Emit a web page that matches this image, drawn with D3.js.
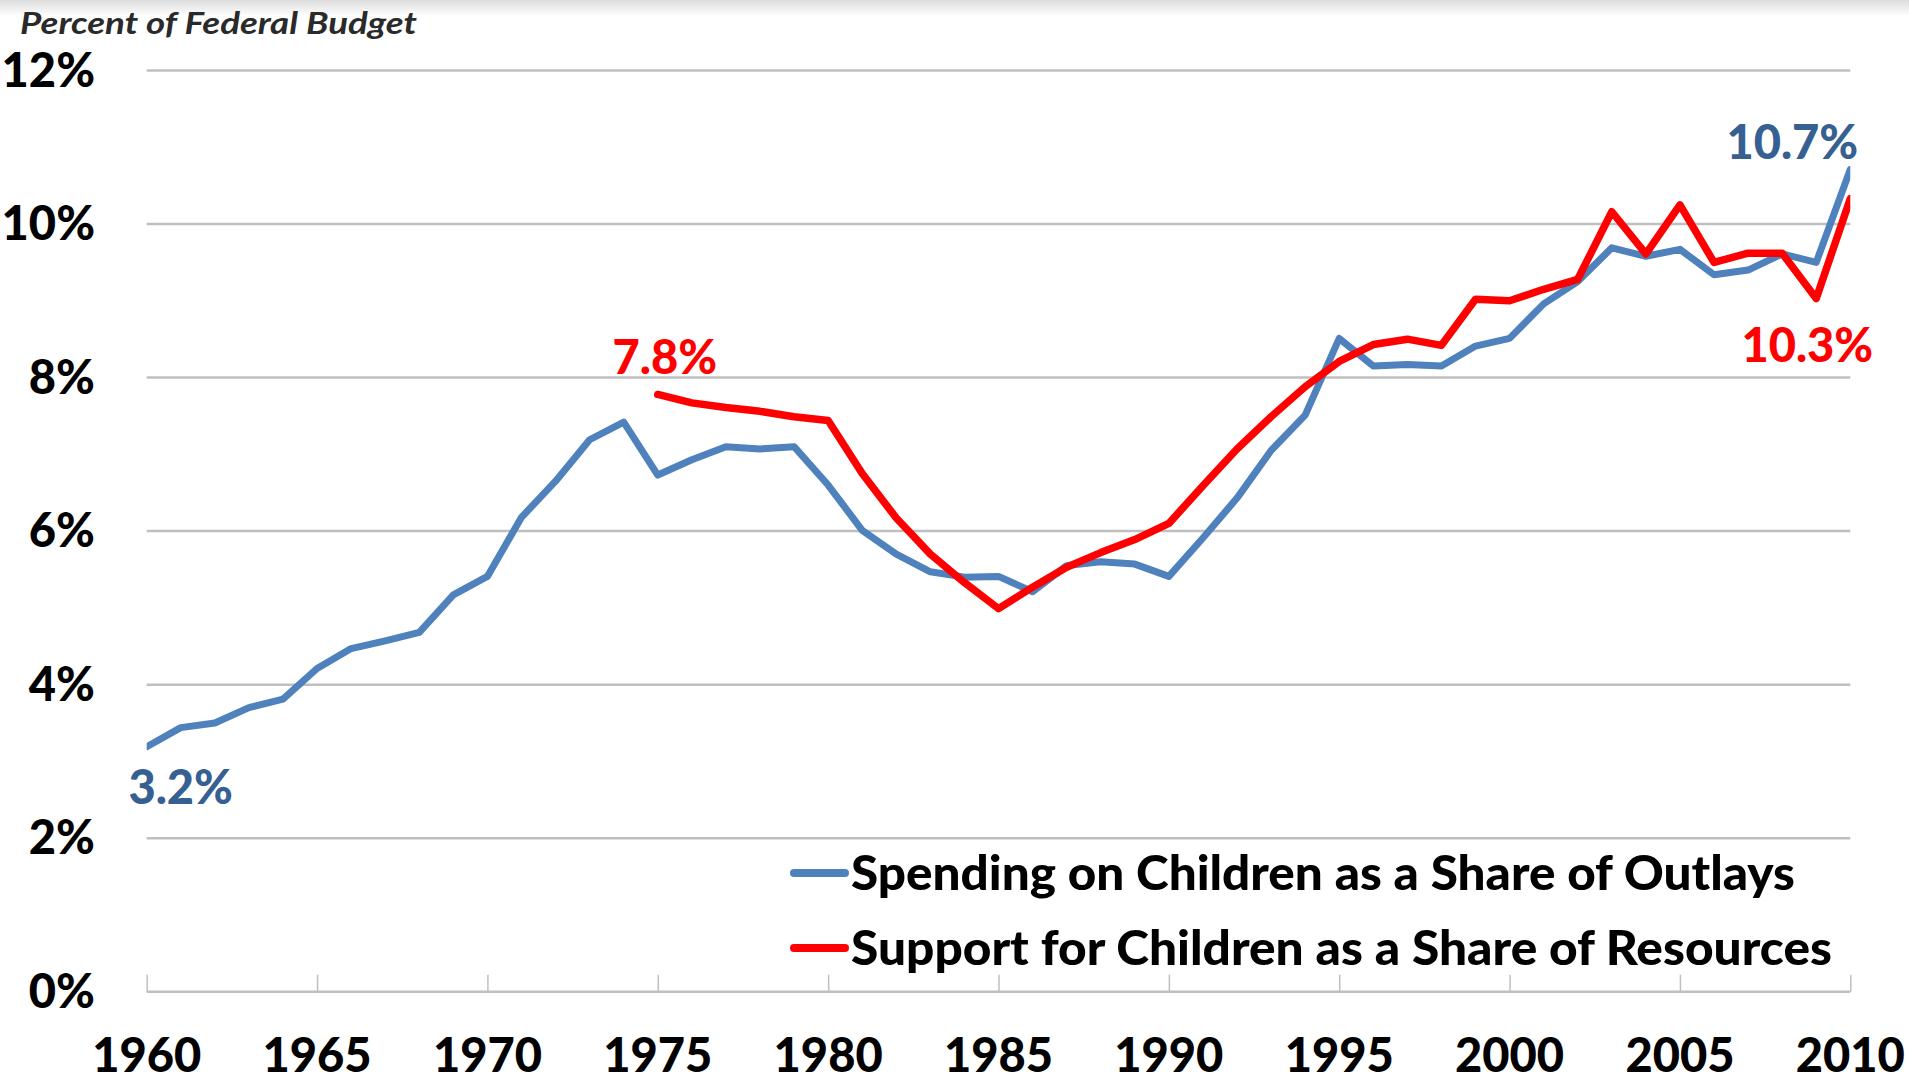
<!DOCTYPE html>
<html>
<head>
<meta charset="utf-8">
<script src="https://cdn.jsdelivr.net/npm/d3@7"></script>
<style>
  body { margin: 0; background: #fff; }
  svg { display: block; font-family: Lato, "Open Sans", sans-serif; }
</style>
</head>
<body>
<div id="chart"></div>
<script>
// years on the x axis
var years = d3.range(1960, 2011);

// spending on children as a share of outlays (%), 1960-2010
var outlays = [3.19, 3.44, 3.50, 3.70, 3.81, 4.21, 4.47, 4.57, 4.68, 5.17,
               5.41, 6.18, 6.65, 7.19, 7.42, 6.73, 6.93, 7.10, 7.07, 7.10,
               6.60, 6.01, 5.70, 5.47, 5.40, 5.41, 5.21, 5.55, 5.60, 5.57,
               5.41, 5.91, 6.43, 7.05, 7.51, 8.51, 8.15, 8.17, 8.15, 8.41,
               8.51, 8.96, 9.25, 9.69, 9.58, 9.67, 9.34, 9.40, 9.61, 9.50,
               10.71];

// support for children as a share of resources (%), 1975-2010
var resourceYears = d3.range(1975, 2011);
var resources = [7.78, 7.67, 7.61, 7.56, 7.49, 7.44, 6.75, 6.17, 5.70, 5.33,
                 4.99, 5.27, 5.53, 5.72, 5.89, 6.10, 6.59, 7.07, 7.49, 7.88,
                 8.21, 8.43, 8.50, 8.42, 9.02, 9.00, 9.15, 9.28, 10.16, 9.61,
                 10.25, 9.50, 9.62, 9.62, 9.03, 10.33];

var yTicks = [0, 2, 4, 6, 8, 10, 12];
var xTicks = [1960, 1965, 1970, 1975, 1980, 1985, 1990, 1995, 2000, 2005, 2010];

var seriesNames = ["Spending on Children as a Share of Outlays",
                   "Support for Children as a Share of Resources"];

var svgWidth = 1909;
var svgHeight = 1082;

var blue = "#4F81BD";
var blueLabel = "#376092";
var red = "#FF0000";
var grid = "#BFBFBF";
var fontSize = 47;
var weight = 900;

var svg = d3.select("#chart")
  .append("svg")
  .attr("width", svgWidth)
  .attr("height", svgHeight);

// faint gray band along the top edge
var defs = svg.append("defs");
var grad = defs.append("linearGradient")
  .attr("id", "topband")
  .attr("x1", 0).attr("y1", 0).attr("x2", 0).attr("y2", 1);
grad.append("stop").attr("offset", "0%").attr("stop-color", "#dcdcdc");
grad.append("stop").attr("offset", "100%").attr("stop-color", "#ffffff");
svg.append("rect")
  .attr("x", 0).attr("y", 0)
  .attr("width", svgWidth).attr("height", 16)
  .attr("fill", "url(#topband)");

var xScale = d3.scaleLinear()
  .domain([1960, 2010])
  .range([146.7, 1850.3]);

var yScale = d3.scaleLinear()
  .domain([0, 12])
  .range([991.7, 70.5]);

defs.append("clipPath")
  .attr("id", "plotclip")
  .append("rect")
  .attr("x", xScale(1960))
  .attr("y", 0)
  .attr("width", xScale(2010) - xScale(1960))
  .attr("height", svgHeight);

// squeeze or stretch a text to the width it has in the original
function fitWidth(sel, width) {
  sel.attr("textLength", width).attr("lengthAdjust", "spacingAndGlyphs");
}

// gridlines
svg.append("g")
  .selectAll("line")
  .data(yTicks.filter(d => d > 0))
  .enter()
  .append("line")
  .attr("x1", xScale(1960))
  .attr("x2", xScale(2010))
  .attr("y1", d => yScale(d))
  .attr("y2", d => yScale(d))
  .attr("stroke", grid)
  .attr("stroke-width", 2.5);

// x axis with ticks pointing up into the plot
var xAxis = d3.axisTop(xScale)
  .tickValues(xTicks)
  .tickSize(17)
  .tickFormat("");

var xAxisG = svg.append("g")
  .attr("transform", `translate(0, ${yScale(0)})`)
  .call(xAxis);
xAxisG.select(".domain").remove();
xAxisG.selectAll("line")
  .attr("stroke", grid)
  .attr("stroke-width", 1.5);
svg.append("line")
  .attr("x1", xScale(1960))
  .attr("x2", xScale(2010))
  .attr("y1", yScale(0))
  .attr("y2", yScale(0))
  .attr("stroke", grid)
  .attr("stroke-width", 2.5);

// x tick labels
svg.append("g")
  .selectAll("text")
  .data(xTicks)
  .enter()
  .append("text")
  .attr("x", d => xScale(d))
  .attr("y", 1072)
  .attr("text-anchor", "middle")
  .attr("font-size", fontSize)
  .attr("font-weight", weight)
  .attr("fill", "#000")
  .text(d => d);

// y tick labels
svg.append("g")
  .selectAll("text")
  .data(yTicks)
  .enter()
  .append("text")
  .attr("x", 95)
  .attr("y", d => yScale(d) + 16)
  .attr("text-anchor", "end")
  .attr("font-size", fontSize)
  .attr("font-weight", weight)
  .attr("fill", "#000")
  .text(d => d + "%");

// axis title
svg.append("text")
  .attr("x", 20)
  .attr("y", 34)
  .attr("font-size", 30)
  .attr("font-weight", "bold")
  .attr("font-style", "italic")
  .attr("fill", "#2a2a2a")
  .text("Percent of Federal Budget")
  .call(fitWidth, 397);

// lines
var line = d3.line()
  .x(d => xScale(d[0]))
  .y(d => yScale(d[1]));

var lines = svg.append("g").attr("clip-path", "url(#plotclip)");

lines.append("path")
  .datum(years.map((y, i) => [y, outlays[i]]))
  .attr("d", line)
  .attr("fill", "none")
  .attr("stroke", blue)
  .attr("stroke-width", 7)
  .attr("stroke-linejoin", "round")
  .attr("stroke-linecap", "round");

lines.append("path")
  .datum(resourceYears.map((y, i) => [y, resources[i]]))
  .attr("d", line)
  .attr("fill", "none")
  .attr("stroke", red)
  .attr("stroke-width", 7.5)
  .attr("stroke-linejoin", "round")
  .attr("stroke-linecap", "round");

// data labels
var labels = [
  {text: outlays[0].toFixed(1) + "%", x: xScale(1960) + 34, y: 804, color: blueLabel},
  {text: resources[0].toFixed(1) + "%", x: xScale(1975) + 7, y: 374, color: red},
  {text: outlays[50].toFixed(1) + "%", x: xScale(2010) - 58, y: 159, color: blueLabel},
  {text: resources[35].toFixed(1) + "%", x: xScale(2010) - 43, y: 362, color: red}
];

svg.append("g")
  .selectAll("text")
  .data(labels)
  .enter()
  .append("text")
  .attr("x", d => d.x)
  .attr("y", d => d.y)
  .attr("text-anchor", "middle")
  .attr("font-size", fontSize)
  .attr("font-weight", weight)
  .attr("fill", d => d.color)
  .text(d => d.text);

// legend
var legend = svg.append("g");
var legendRows = [
  {name: seriesNames[0], color: blue, y: 873, width: 944},
  {name: seriesNames[1], color: red, y: 948, width: 981}
];

legendRows.forEach(function(r) {
  legend.append("line")
    .attr("x1", 794)
    .attr("x2", 845)
    .attr("y1", r.y)
    .attr("y2", r.y)
    .attr("stroke", r.color)
    .attr("stroke-width", 8)
    .attr("stroke-linecap", "round");

  legend.append("text")
    .attr("x", 851)
    .attr("y", r.y + 17)
    .attr("font-size", fontSize)
    .attr("font-weight", weight)
    .attr("fill", "#000")
    .text(r.name)
    .call(fitWidth, r.width);
});
</script>
</body>
</html>
